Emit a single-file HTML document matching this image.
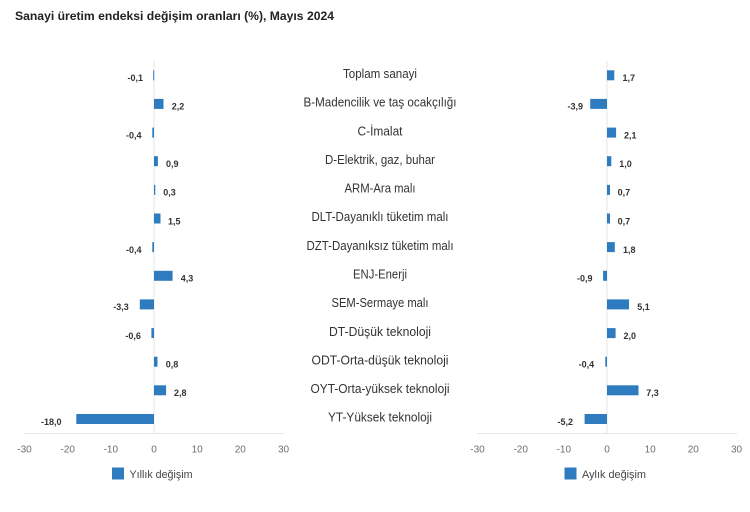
<!DOCTYPE html>
<html>
<head>
<meta charset="utf-8">
<style>
  html,body{margin:0;padding:0;background:#fff;}
  svg{display:block;}
  .t{font-family:"Liberation Sans",sans-serif;}
  .cat{font-family:"Liberation Sans",sans-serif;font-size:12.5px;fill:#333;text-anchor:middle;}
  .val{font-family:"Liberation Sans",sans-serif;font-size:9px;font-weight:bold;fill:#333;}
  .tick{font-family:"Liberation Sans",sans-serif;font-size:10px;fill:#6e6e6e;text-anchor:middle;}
  .leg{font-family:"Liberation Sans",sans-serif;font-size:11px;fill:#444;}
  .bar{fill:#2e7cbf;}
</style>
</head>
<body>
<svg width="750" height="512" viewBox="0 0 750 512" xmlns="http://www.w3.org/2000/svg">
  <rect width="750" height="512" fill="#fff"/>
  <text class="t" x="15" y="20" font-size="12" font-weight="bold" fill="#222" textLength="319" lengthAdjust="spacingAndGlyphs">Sanayi üretim endeksi değişim oranları (%), Mayıs 2024</text>

  <!-- zero lines -->
  <line x1="154" y1="61" x2="154" y2="433.5" stroke="#e4e4e4" stroke-width="1"/>
  <line x1="607" y1="61" x2="607" y2="433.5" stroke="#e4e4e4" stroke-width="1"/>
  <!-- axis lines -->
  <line x1="24.5" y1="433.5" x2="284" y2="433.5" stroke="#e6e6e6" stroke-width="1"/>
  <line x1="477" y1="433.5" x2="737" y2="433.5" stroke="#e6e6e6" stroke-width="1"/>

  <!-- category labels -->
  <text class="cat" x="380" y="78" textLength="74" lengthAdjust="spacingAndGlyphs">Toplam sanayi</text>
  <text class="cat" x="380" y="106.6" textLength="153" lengthAdjust="spacingAndGlyphs">B-Madencilik ve taş ocakçılığı</text>
  <text class="cat" x="380" y="135.3" textLength="45" lengthAdjust="spacingAndGlyphs">C-İmalat</text>
  <text class="cat" x="380" y="163.9" textLength="110" lengthAdjust="spacingAndGlyphs">D-Elektrik, gaz, buhar</text>
  <text class="cat" x="380" y="192.6" textLength="71" lengthAdjust="spacingAndGlyphs">ARM-Ara malı</text>
  <text class="cat" x="380" y="221.2" textLength="137" lengthAdjust="spacingAndGlyphs">DLT-Dayanıklı tüketim malı</text>
  <text class="cat" x="380" y="249.8" textLength="147" lengthAdjust="spacingAndGlyphs">DZT-Dayanıksız tüketim malı</text>
  <text class="cat" x="380" y="278.5" textLength="54" lengthAdjust="spacingAndGlyphs">ENJ-Enerji</text>
  <text class="cat" x="380" y="307.1" textLength="97" lengthAdjust="spacingAndGlyphs">SEM-Sermaye malı</text>
  <text class="cat" x="380" y="335.8" textLength="102" lengthAdjust="spacingAndGlyphs">DT-Düşük teknoloji</text>
  <text class="cat" x="380" y="364.4" textLength="137" lengthAdjust="spacingAndGlyphs">ODT-Orta-düşük teknoloji</text>
  <text class="cat" x="380" y="393" textLength="139" lengthAdjust="spacingAndGlyphs">OYT-Orta-yüksek teknoloji</text>
  <text class="cat" x="380" y="421.7" textLength="104" lengthAdjust="spacingAndGlyphs">YT-Yüksek teknoloji</text>

  <!-- LEFT bars -->
  <rect class="bar" x="153.2" y="70.3" width="1" height="10"/>
  <rect class="bar" x="154" y="98.9" width="9.5" height="10"/>
  <rect class="bar" x="152.3" y="127.6" width="1.7" height="10"/>
  <rect class="bar" x="154" y="156.2" width="3.9" height="10"/>
  <rect class="bar" x="154" y="184.9" width="1.3" height="10"/>
  <rect class="bar" x="154" y="213.5" width="6.5" height="10"/>
  <rect class="bar" x="152.3" y="242.1" width="1.7" height="10"/>
  <rect class="bar" x="154" y="270.8" width="18.6" height="10"/>
  <rect class="bar" x="139.8" y="299.4" width="14.2" height="10"/>
  <rect class="bar" x="151.4" y="328.1" width="2.6" height="10"/>
  <rect class="bar" x="154" y="356.7" width="3.5" height="10"/>
  <rect class="bar" x="154" y="385.3" width="12.1" height="10"/>
  <rect class="bar" x="76.3" y="414" width="77.7" height="10"/>

  <!-- LEFT value labels -->
  <text class="val" x="143" y="81.1" text-anchor="end">-0,1</text>
  <text class="val" x="171.8" y="109.7">2,2</text>
  <text class="val" x="141.5" y="138.4" text-anchor="end">-0,4</text>
  <text class="val" x="166" y="167">0,9</text>
  <text class="val" x="163.3" y="195.7">0,3</text>
  <text class="val" x="168" y="224.3">1,5</text>
  <text class="val" x="141.5" y="252.9" text-anchor="end">-0,4</text>
  <text class="val" x="180.8" y="281.6">4,3</text>
  <text class="val" x="128.8" y="310.2" text-anchor="end">-3,3</text>
  <text class="val" x="140.9" y="338.9" text-anchor="end">-0,6</text>
  <text class="val" x="165.8" y="367.5">0,8</text>
  <text class="val" x="174" y="396.1">2,8</text>
  <text class="val" x="61.5" y="424.8" text-anchor="end">-18,0</text>

  <!-- RIGHT bars -->
  <rect class="bar" x="607" y="70.3" width="7.3" height="10"/>
  <rect class="bar" x="590.2" y="98.9" width="16.8" height="10"/>
  <rect class="bar" x="607" y="127.6" width="9.1" height="10"/>
  <rect class="bar" x="607" y="156.2" width="4.3" height="10"/>
  <rect class="bar" x="607" y="184.9" width="3" height="10"/>
  <rect class="bar" x="607" y="213.5" width="3" height="10"/>
  <rect class="bar" x="607" y="242.1" width="7.8" height="10"/>
  <rect class="bar" x="603.1" y="270.8" width="3.9" height="10"/>
  <rect class="bar" x="607" y="299.4" width="22" height="10"/>
  <rect class="bar" x="607" y="328.1" width="8.6" height="10"/>
  <rect class="bar" x="605.3" y="356.7" width="1.7" height="10"/>
  <rect class="bar" x="607" y="385.3" width="31.5" height="10"/>
  <rect class="bar" x="584.6" y="414" width="22.4" height="10"/>

  <!-- RIGHT value labels -->
  <text class="val" x="622.5" y="81.1">1,7</text>
  <text class="val" x="583" y="109.7" text-anchor="end">-3,9</text>
  <text class="val" x="624" y="138.4">2,1</text>
  <text class="val" x="619.2" y="167">1,0</text>
  <text class="val" x="617.6" y="195.7">0,7</text>
  <text class="val" x="617.6" y="224.3">0,7</text>
  <text class="val" x="623" y="252.9">1,8</text>
  <text class="val" x="592.5" y="281.6" text-anchor="end">-0,9</text>
  <text class="val" x="637.2" y="310.2">5,1</text>
  <text class="val" x="623.5" y="338.9">2,0</text>
  <text class="val" x="594.2" y="367.5" text-anchor="end">-0,4</text>
  <text class="val" x="646.2" y="396.1">7,3</text>
  <text class="val" x="573" y="424.8" text-anchor="end">-5,2</text>

  <!-- tick labels left -->
  <text class="tick" x="24.5" y="452.5">-30</text>
  <text class="tick" x="67.7" y="452.5">-20</text>
  <text class="tick" x="110.8" y="452.5">-10</text>
  <text class="tick" x="154" y="452.5">0</text>
  <text class="tick" x="197.2" y="452.5">10</text>
  <text class="tick" x="240.3" y="452.5">20</text>
  <text class="tick" x="283.5" y="452.5">30</text>
  <!-- tick labels right -->
  <text class="tick" x="477.5" y="452.5">-30</text>
  <text class="tick" x="520.7" y="452.5">-20</text>
  <text class="tick" x="563.8" y="452.5">-10</text>
  <text class="tick" x="607" y="452.5">0</text>
  <text class="tick" x="650.2" y="452.5">10</text>
  <text class="tick" x="693.3" y="452.5">20</text>
  <text class="tick" x="736.5" y="452.5">30</text>

  <!-- legends -->
  <rect class="bar" x="112" y="467.5" width="12" height="12"/>
  <text class="leg" x="129.5" y="477.8" textLength="63" lengthAdjust="spacingAndGlyphs">Yıllık değişim</text>
  <rect class="bar" x="564.5" y="467.5" width="12" height="12"/>
  <text class="leg" x="582" y="477.8" textLength="64" lengthAdjust="spacingAndGlyphs">Aylık değişim</text>
</svg>
</body>
</html>
